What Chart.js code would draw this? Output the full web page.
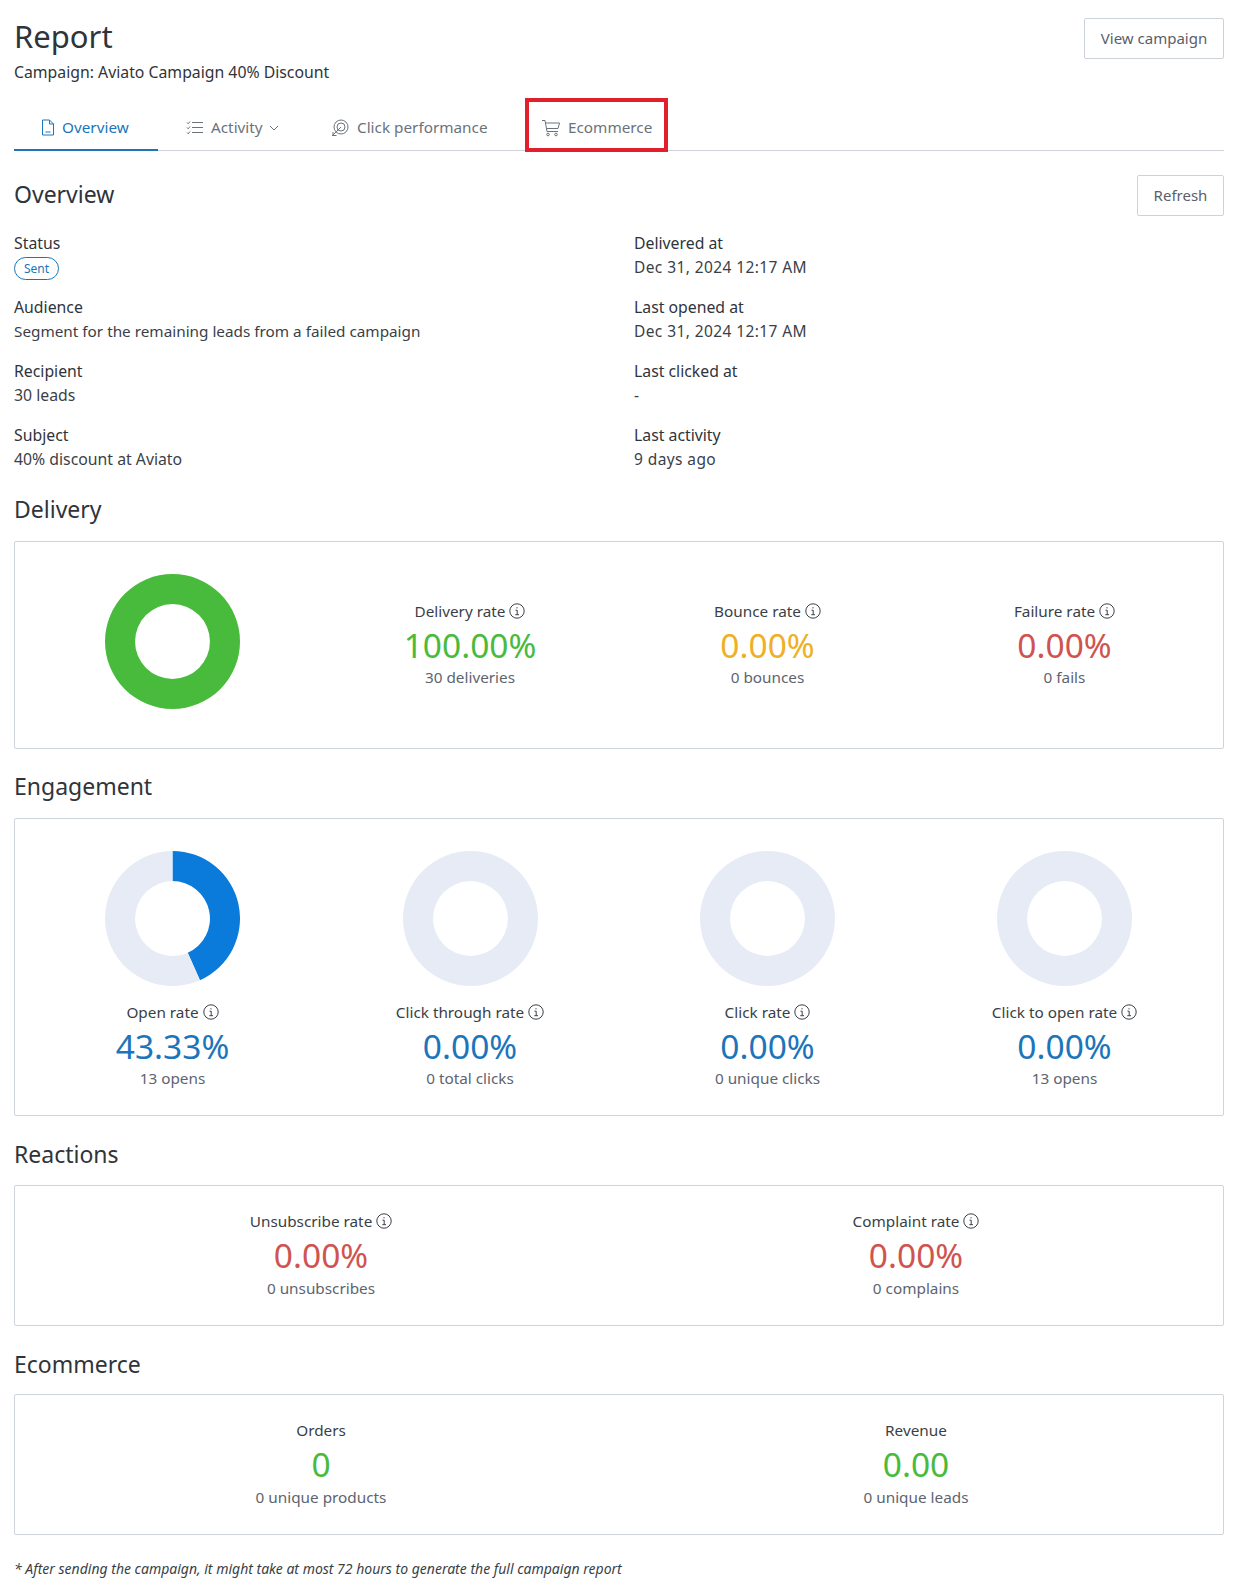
<!DOCTYPE html>
<html>
<head>
<meta charset="utf-8">
<title>Report</title>
<script src="https://cdn.jsdelivr.net/npm/chart.js@4/dist/chart.umd.js"></script>
<style>
html, body { margin: 0; padding: 0; background: #fff; }
body { position: relative; width: 1235px; height: 1590px; overflow: hidden; font-family: "Noto Sans", sans-serif; font-size: 15.3px; color: #3a3f47; }
.t { position: absolute; white-space: nowrap; line-height: 24px; transform: translateY(-50%); }
.c { transform: translate(-50%, -50%); }
h1, h2 { margin: 0; font-weight: 400; color: #2f343b; }
h1 { font-size: 31px; line-height: 40px; }
h2 { font-size: 23px; line-height: 30px; }
.muted { color: #5d6470; }
.lab { font-size: 15.8px; color: #2f343b; }
.date { font-size: 15.5px; letter-spacing: 0.4px; }
.sm { font-size: 15.8px; }
.btn { position: absolute; box-sizing: border-box; border: 1px solid #ced2d9; border-radius: 2px; text-align: center; color: #5a606b; font-size: 15px; background: #fff; }
.card { position: absolute; box-sizing: border-box; left: 14px; width: 1210px; border: 1px solid #cfd3da; border-radius: 2px; }
.big { font-size: 33.5px; line-height: 38px; }
.tab { color: #6c727c; }
.rule { position: absolute; background: #d0d4da; left: 14px; width: 1210px; height: 1px; top: 150px; }
.ink { position: absolute; background: #1c75b9; left: 14px; width: 144px; height: 2px; top: 149px; }
.red { position: absolute; box-sizing: border-box; left: 525px; top: 98px; width: 143px; height: 54px; border: 4px solid #e0212c; }
.badge { position: absolute; box-sizing: border-box; left: 14px; top: 257px; width: 45px; height: 23px; border: 1px solid #1b75b5; border-radius: 12px; color: #1b75b5; font-size: 12px; line-height: 21px; text-align: center; }
canvas { position: absolute; }
svg { position: absolute; fill: none; }
.foot { font-style: italic; font-size: 14px; color: #3a3f47; }
</style>
</head>
<body>
<script>
const tabLabels = ["Overview", "Activity", "Click performance", "Ecommerce"];

const detailLeftLabels = ["Audience", "Recipient", "Subject"];
const detailLeftValues = ["Segment for the remaining leads from a failed campaign", "30 leads", "40% discount at Aviato"];
const detailRightLabels = ["Delivered at", "Last opened at", "Last clicked at", "Last activity"];
const detailRightValues = ["Dec 31, 2024 12:17 AM", "Dec 31, 2024 12:17 AM", "-", "9 days ago"];

const deliveryLabels = ["Delivery rate", "Bounce rate", "Failure rate"];
const deliveryValues = ["100.00%", "0.00%", "0.00%"];
const deliveryNotes = ["30 deliveries", "0 bounces", "0 fails"];
const deliveryDonut = [100, 0];

const engagementLabels = ["Open rate", "Click through rate", "Click rate", "Click to open rate"];
const engagementValues = ["43.33%", "0.00%", "0.00%", "0.00%"];
const engagementNotes = ["13 opens", "0 total clicks", "0 unique clicks", "13 opens"];
const engagementRates = [43.33, 0, 0, 0];

const reactionLabels = ["Unsubscribe rate", "Complaint rate"];
const reactionValues = ["0.00%", "0.00%"];
const reactionNotes = ["0 unsubscribes", "0 complains"];

const ecommerceLabels = ["Orders", "Revenue"];
const ecommerceValues = ["0", "0.00"];
const ecommerceNotes = ["0 unique products", "0 unique leads"];

const GREEN = "#49bb3c", AMBER = "#eeb026", RED = "#cf5450", BLUE = "#1b75bb";
const TRACK = "#e6ebf6";
const COL4 = [172.5, 470, 767.5, 1064.5];
const COL2 = [321, 916];

function addText(txt, x, y, cls, color) {
    const d = document.createElement("div");
    d.className = "t " + (cls || "");
    d.textContent = txt;
    d.style.left = x + "px";
    d.style.top = y + "px";
    if (color) d.style.color = color;
    document.body.appendChild(d);
    return d;
}

function addBox(cls, css, txt) {
    const d = document.createElement("div");
    d.className = cls;
    d.style.cssText = css;
    if (txt) d.textContent = txt;
    document.body.appendChild(d);
}

function addIcon(x, y, w, h, inner, color) {
    const s = document.createElementNS("http://www.w3.org/2000/svg", "svg");
    s.setAttribute("width", w);
    s.setAttribute("height", h);
    s.setAttribute("viewBox", "0 0 " + w + " " + h);
    s.style.left = x + "px";
    s.style.top = y + "px";
    s.style.stroke = color;
    s.innerHTML = inner;
    document.body.appendChild(s);
}

function infoIcon(x, y) {
    addIcon(x, y - 8, 16, 16, '<circle cx="8" cy="8" r="7.2"/><path d="M6.5 7.2H8.2V11.6M6.3 11.7H10M8 4.2V5.4"/>', "#3a3f47");
}

function metric(x, y, label, value, note, color, info) {
    const l = addText(label, x, y, "c");
    if (info) {
        const w = l.getBoundingClientRect().width;
        l.style.left = (x - 10) + "px";
        infoIcon(x - 10 + w / 2 + 4, y);
    }
    addText(value, x, y + 34, "c big", color);
    addText(note, x, y + 66.5, "c muted");
}

function donut(x, y, filled, color) {
    const cv = document.createElement("canvas");
    cv.style.left = (x - 67.5) + "px";
    cv.style.top = (y - 67.5) + "px";
    cv.style.width = "135px";
    cv.style.height = "135px";
    cv.width = 135;
    cv.height = 135;
    document.body.appendChild(cv);
    new Chart(cv, {
        type: "doughnut",
        data: { datasets: [{ data: filled, backgroundColor: [color, TRACK], borderWidth: 0 }] },
        options: {
            responsive: false,
            animation: false,
            cutout: "55.5%",
            layout: { padding: 0 },
            plugins: { legend: { display: false }, tooltip: { enabled: false } }
        }
    });
}

// Cabecera
addText("", 14, 36).innerHTML = "<h1>Report</h1>";
addText("Campaign: Aviato Campaign 40% Discount", 14, 72, "sm", "#2f343b");
addBox("btn", "left:1084px;top:18px;width:140px;height:41px;line-height:38px", "View campaign");
addBox("btn", "left:1137px;top:175px;width:87px;height:41px;line-height:38px", "Refresh");

// Pestañas
addBox("rule", "");
addBox("ink", "");
addBox("red", "");
addText(tabLabels[0], 62, 126.5, "", BLUE);
addText(tabLabels[1], 211, 126.5, "tab");
addText(tabLabels[2], 357, 126.5, "tab");
addText(tabLabels[3], 568, 126.5, "tab");
addIcon(41, 119, 14, 17, '<path d="M1.5 1H8.5L12.5 5V16H1.5ZM8.5 1V5H12.5M4.5 13H9.5"/>', BLUE);
addIcon(186, 120, 18, 15, '<path d="M6 2.5H17M6 7.5H17M6 12.5H17M1 2.5L2.2 3.8L4 1.5M1 7.5L2.2 8.8L4 6.5M1 12.5L2.2 13.8L4 11.5"/>', "#6c727c");
addIcon(269, 125, 10, 6, '<path d="M1 1L5 5L9 1"/>', "#6c727c");
addIcon(331, 119, 18, 18, '<circle cx="10" cy="8" r="7"/><circle cx="10" cy="8" r="4"/><path d="M10 8L1 17M2 13V16.5H5.5"/>', "#6c727c");
addIcon(541, 119, 20, 18, '<path d="M1 1.5H4L6 12.5H17M4.5 4H18.5L17 9.5H5.5"/><circle cx="7" cy="15.5" r="1.3"/><circle cx="15" cy="15.5" r="1.3"/>', "#6c727c");

// Resumen
addText("", 14, 193.5).innerHTML = "<h2>Overview</h2>";
addText("Status", 14, 243, "lab");
addBox("badge", "", "Sent");
detailLeftLabels.forEach((lab, i) => {
    const y = [307, 371, 435][i];
    addText(lab, 14, y, "lab");
    addText(detailLeftValues[i], 14, y + 24, i ? "sm" : "");
});
detailRightLabels.forEach((lab, i) => {
    const y = [243, 307, 371, 435][i];
    addText(lab, 634, y, "lab");
    addText(detailRightValues[i], 634, y + 24, "date");
});

// Entrega
addText("", 14, 509).innerHTML = "<h2>Delivery</h2>";
addBox("card", "top:541px;height:208px");
donut(COL4[0], 641.5, deliveryDonut, GREEN);
const deliveryColors = [GREEN, AMBER, RED];
deliveryLabels.forEach((lab, i) => metric(COL4[i + 1], 610.5, lab, deliveryValues[i], deliveryNotes[i], deliveryColors[i], true));

// Interacción
addText("", 14, 786).innerHTML = "<h2>Engagement</h2>";
addBox("card", "top:818px;height:298px");
engagementLabels.forEach((lab, i) => {
    donut(COL4[i], 918.5, [engagementRates[i], 100 - engagementRates[i]], "#0a7bdb");
    metric(COL4[i], 1011.5, lab, engagementValues[i], engagementNotes[i], BLUE, true);
});

// Reacciones
addText("", 14, 1154).innerHTML = "<h2>Reactions</h2>";
addBox("card", "top:1185px;height:141px");
reactionLabels.forEach((lab, i) => metric(COL2[i], 1221, lab, reactionValues[i], reactionNotes[i], RED, true));

// Ecommerce
addText("", 14, 1364).innerHTML = "<h2>Ecommerce</h2>";
addBox("card", "top:1394px;height:141px");
ecommerceLabels.forEach((lab, i) => metric(COL2[i], 1430, lab, ecommerceValues[i], ecommerceNotes[i], GREEN, false));

addText("* After sending the campaign, it might take at most 72 hours to generate the full campaign report", 14, 1569, "foot");
</script>
</body>
</html>
